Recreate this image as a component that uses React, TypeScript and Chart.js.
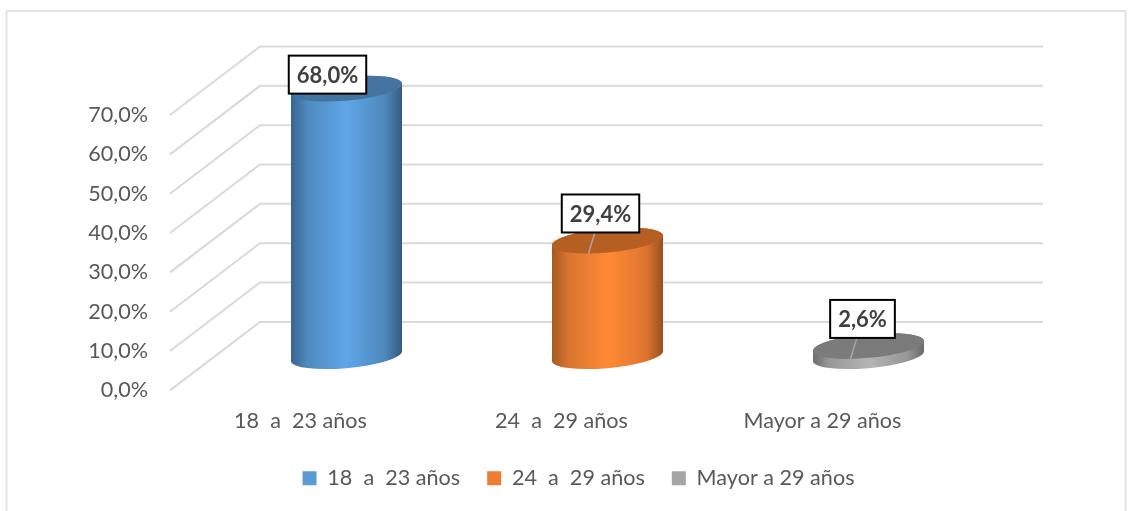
import React, { useEffect, useRef } from "react";
import { Chart, registerables } from "chart.js";

Chart.register(...registerables);

const categories = ["18  a  23 años", "24  a  29 años", "Mayor a 29 años"];
const values = [68.0, 29.4, 2.6];
const dataLabels = ["68,0%", "29,4%", "2,6%"];

const legendColors = ["#5b9bd5", "#ed7d31", "#a5a5a5"];
const ramps = [
  { edgeL: "#39658f", mid1: "#4f8ac0", mid: "#5fa6e8", mid2: "#4e87ba", edgeR: "#325a80", top: "#44749f" },
  { edgeL: "#a55a20", mid1: "#d87430", mid: "#ff8a33", mid2: "#dd7530", edgeR: "#95501d", top: "#b65f23" },
  { edgeL: "#6c6c6c", mid1: "#989898", mid: "#b4b4b4", mid2: "#979797", edgeR: "#686868", top: "#7b7b7b" },
];
// label box centre relative to the top of the cylinder
const labelOffsets = [
  { dx: -19, dy: -14, leader: false },
  { dx: -7, dy: -27, leader: true },
  { dx: -6, dy: -27, leader: true },
];

const DEPTH_X = 90;
const DEPTH_Y = -68.5;
const BAR_SHIFT = 1;
const GRID = "#d9d9d9";
const FONT = "Lato, Carlito, sans-serif";
const TEXT_SIZE = 21.6;
const ROT = (-5.2 * Math.PI) / 180;
const RY = 12;

const wallPlugin = {
  id: "wall",
  beforeDraw(chart: any) {
    const c = chart.ctx;
    c.save();
    c.strokeStyle = "#e4e4e4";
    c.lineWidth = 2;
    c.beginPath();
    c.moveTo(6.5, 511);
    c.lineTo(6.5, 11);
    c.lineTo(1125.5, 11);
    c.lineTo(1125.5, 511);
    c.stroke();
    c.restore();
  },
  beforeDatasetsDraw(chart: any) {
    const c = chart.ctx;
    const s = chart.scales.y;
    const { left, right } = chart.chartArea;
    c.save();
    c.strokeStyle = GRID;
    c.lineWidth = 2;
    s.ticks.forEach((t: any) => {
      const y = s.getPixelForValue(t.value);
      c.beginPath();
      c.moveTo(left, y);
      c.lineTo(left + DEPTH_X, y + DEPTH_Y);
      c.lineTo(right + DEPTH_X, y + DEPTH_Y);
      c.stroke();
    });
    c.restore();
  },
};

const cylinderPlugin = {
  id: "cylinder",
  afterDatasetsDraw(chart: any) {
    const c = chart.ctx;
    const meta = chart.getDatasetMeta(0);
    meta.data.forEach((bar: any, i: number) => {
      const cx = bar.x + DEPTH_X / 2 + BAR_SHIFT;
      const ty = bar.y + DEPTH_Y / 2;
      const by = bar.base + DEPTH_Y / 2;
      const rx = bar.width / 2;
      const t0 = Math.atan2(-RY * Math.sin(ROT), rx * Math.cos(ROT));
      const r = ramps[i];
      const g = c.createLinearGradient(cx - rx, 0, cx + rx, 0);
      g.addColorStop(0, r.edgeL);
      g.addColorStop(0.15, r.mid1);
      g.addColorStop(0.5, r.mid);
      g.addColorStop(0.85, r.mid2);
      g.addColorStop(1, r.edgeR);
      c.save();
      c.fillStyle = g;
      c.beginPath();
      c.ellipse(cx, by, rx, RY, ROT, t0, t0 + Math.PI);
      c.ellipse(cx, ty, rx, RY, ROT, t0 + Math.PI, t0 + 2 * Math.PI);
      c.closePath();
      c.fill();
      c.fillStyle = r.top;
      c.beginPath();
      c.ellipse(cx, ty, rx, RY, ROT, 0, 2 * Math.PI);
      c.fill();
      c.restore();
    });
  },
  afterDraw(chart: any) {
    const c = chart.ctx;
    const meta = chart.getDatasetMeta(0);
    meta.data.forEach((bar: any, i: number) => {
      const cx = bar.x + DEPTH_X / 2 + BAR_SHIFT;
      const ty = bar.y + DEPTH_Y / 2;
      const o = labelOffsets[i];
      const lx = cx + o.dx;
      const ly = ty + o.dy;
      c.save();
      if (o.leader) {
        c.strokeStyle = "#a6a6a6";
        c.lineWidth = 1.5;
        c.beginPath();
        c.moveTo(lx, ly);
        c.lineTo(lx - 12, ty + 13);
        c.stroke();
      }
      c.font = `bold 22px ${FONT}`;
      const w = c.measureText(dataLabels[i]).width + 16;
      const h = 38;
      c.fillStyle = "#ffffff";
      c.strokeStyle = "#000000";
      c.lineWidth = 2;
      c.fillRect(lx - w / 2, ly - h / 2, w, h);
      c.strokeRect(lx - w / 2, ly - h / 2, w, h);
      c.fillStyle = "#404040";
      c.textAlign = "center";
      c.textBaseline = "middle";
      c.fillText(dataLabels[i], lx, ly + 1);
      c.restore();
    });
  },
};

export default function App() {
  const ref = useRef<HTMLCanvasElement>(null);
  useEffect(() => {
    const chart = new Chart(ref.current!, {
      type: "bar",
      data: {
        labels: categories,
        datasets: [
          {
            data: values,
            backgroundColor: "rgba(0,0,0,0)",
            borderWidth: 0,
            categoryPercentage: 1,
            barPercentage: 0.427,
          },
        ],
      },
      options: {
        responsive: false,
        animation: false,
        layout: { padding: { left: 26, right: 0, top: 115, bottom: 12 } },
        scales: {
          x: {
            grid: { display: false, drawTicks: false },
            border: { display: false },
            ticks: { color: "#595959", font: { family: FONT, size: TEXT_SIZE }, padding: 18, maxRotation: 0 },
            afterFit: (s: any) => {
              s.height = 50;
            },
          },
          y: {
            min: 0,
            max: 70,
            grid: { display: false, drawTicks: false },
            border: { display: false },
            ticks: {
              stepSize: 10,
              color: "#595959",
              padding: 22,
              font: { family: FONT, size: TEXT_SIZE },
              callback: (v: any) => Number(v).toFixed(1).replace(".", ",") + "%",
            },
            afterFit: (s: any) => {
              s.width = 144;
            },
          },
          spacer: {
            position: "right",
            display: true,
            grid: { display: false, drawTicks: false },
            border: { display: false },
            ticks: { display: false },
            afterFit: (s: any) => {
              s.width = 178;
            },
          },
        },
        plugins: {
          tooltip: { enabled: false },
          legend: {
            position: "bottom",
            onClick: () => {},
            labels: {
              boxWidth: 14,
              boxHeight: 14,
              padding: 27,
              color: "#595959",
              font: { family: FONT, size: TEXT_SIZE },
              generateLabels: () =>
                categories.map((text, i) => ({
                  text,
                  fillStyle: legendColors[i],
                  strokeStyle: legendColors[i],
                  lineWidth: 0,
                  fontColor: "#595959",
                  index: i,
                })),
            },
          },
        },
      },
      plugins: [wallPlugin, cylinderPlugin],
    } as any);
    return () => chart.destroy();
  }, []);
  return (
    <div style={{ position: "fixed", left: 0, top: 0, width: 1131, height: 511, background: "#fff" }}>
      <canvas ref={ref} width={1131} height={511} style={{ display: "block" }} />
    </div>
  );
}
